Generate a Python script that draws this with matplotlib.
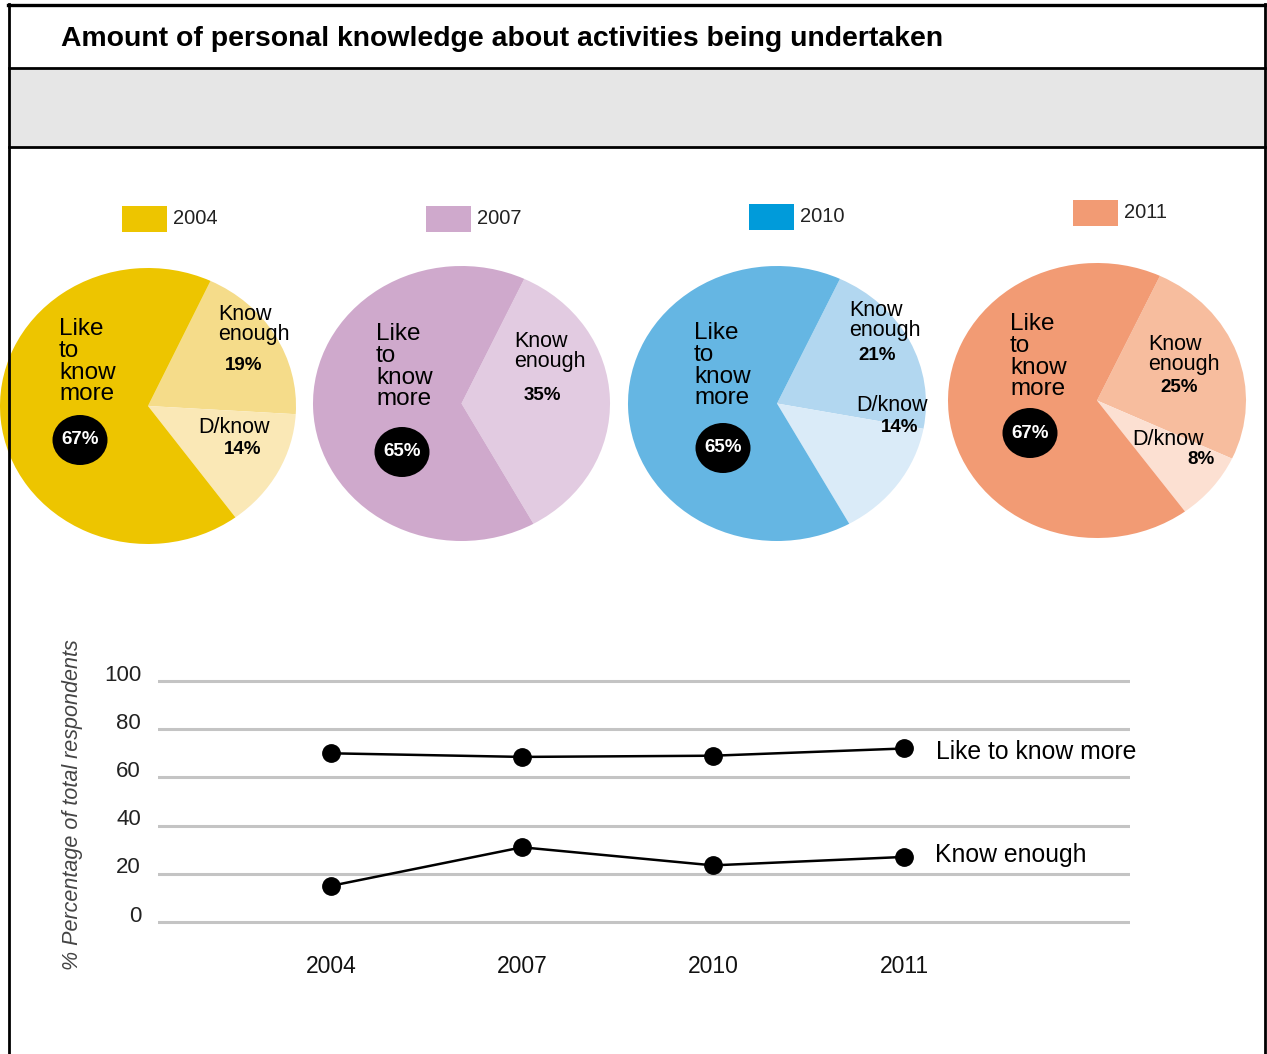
import matplotlib.pyplot as plt
import matplotlib.transforms as mtransforms
from matplotlib.patches import Rectangle, Ellipse

plt.rcParams['font.family'] = ['Liberation Sans', 'DejaVu Sans']

W, H = 1267, 1054

# pie data (percent)
years = ['2004', '2007', '2010', '2011']
like_more = [67, 65, 65, 67]
know_enough = [19, 35, 21, 25]
dont_know = [14, 0, 14, 8]

# trend data (% of total respondents)
trend_years = ['2004', '2007', '2010', '2011']
trend_like = [70, 68.5, 69, 72]
trend_enough = [15, 31, 23.5, 27]
yticks = [0, 20, 40, 60, 80, 100]

pie_colors = [
    ('#EDC500', '#F5DC8A', '#FAE8B6'),
    ('#CFA9CC', '#E2CBE1', '#E2CBE1'),
    ('#65B6E3', '#B2D7F0', '#DAEBF8'),
    ('#F29B74', '#F7BD9E', '#FCE0D2'),
]
swatch_colors = ['#EDC500', '#CFA9CC', '#009BDA', '#F29B74']

fig = plt.figure(figsize=(W / 100, H / 100), dpi=100)


def px_axes(x0, y0, w, h):
    # axes placed with pixel box (top-left origin)
    return fig.add_axes([x0 / W, 1 - (y0 + h) / H, w / W, h / H])


# ---- pies ----
pie_boxes = [(0, 268, 296, 276), (313, 266, 297, 275), (628, 266, 298, 275), (948, 263, 298, 275)]
for i, box in enumerate(pie_boxes):
    ax = px_axes(*box)
    vals = [know_enough[i], dont_know[i], like_more[i]]
    cols = [pie_colors[i][1], pie_colors[i][2], pie_colors[i][0]]
    ax.pie(vals, colors=cols, startangle=65, counterclock=False,
           wedgeprops=dict(linewidth=0))
    ax.set_aspect('auto')
    ax.set_xlim(-1, 1)
    ax.set_ylim(-1, 1)
    ax.axis('off')

# ---- trend line chart ----
lx0, ly0, lw, lh = 158, 660, 972, 280
lax = px_axes(lx0, ly0, lw, lh)
xs = list(range(len(trend_years)))
lax.plot(xs, trend_like, color='black', lw=1.8, marker='o', ms=12.5, zorder=3)
lax.plot(xs, trend_enough, color='black', lw=1.8, marker='o', ms=12.5, zorder=3)
lax.set_xlim((158 - 331) / 191, (1130 - 331) / 191)
lax.set_ylim(-(940 - 922) / 2.41, (922 - 660) / 2.41)
for v in yticks:
    lax.axhline(v, color='#C4C4C4', lw=2.2, zorder=1)
for s in lax.spines.values():
    s.set_visible(False)
lax.set_yticks([])
lax.set_xticks(xs, trend_years)
lax.tick_params(axis='x', length=0, pad=11, labelsize=16.5, labelcolor='#111')
up = mtransforms.ScaledTranslation(0, 6 / 100, fig.dpi_scale_trans)
for v in yticks:
    lax.text(-17 / lw, v, str(v), transform=lax.get_yaxis_transform() + up,
             ha='right', va='center', fontsize=16, color='#222')
lax.annotate('Like to know more', xy=(xs[-1], trend_like[-1]), xytext=(32, -4),
             textcoords='offset pixels', ha='left', va='center', fontsize=17.8)
lax.annotate('Know enough', xy=(xs[-1], trend_enough[-1]), xytext=(31, 2),
             textcoords='offset pixels', ha='left', va='center', fontsize=17.8)

# ---- overlay: frame, title, legend, labels ----
ov = fig.add_axes([0, 0, 1, 1])
ov.set_xlim(0, W)
ov.set_ylim(H, 0)
ov.axis('off')
ov.patch.set_alpha(0)

ov.add_patch(Rectangle((9, 68), 1256, 79, color='#E6E6E6', lw=0))
ov.plot([8, 1266], [5, 5], color='black', lw=2.4)
ov.plot([9, 9], [4, H], color='black', lw=2)
ov.plot([1265, 1265], [4, H], color='black', lw=2)
ov.plot([9, 1265], [68, 68], color='black', lw=2)
ov.plot([9, 1265], [147, 147], color='black', lw=2)

ov.text(61, 39, 'Amount of personal knowledge about activities being undertaken',
        fontsize=20.4, fontweight='bold', ha='left', va='center')

swatches = [(122, 206), (426, 206), (749, 204), (1073, 200)]
for (sx, sy), c, yr in zip(swatches, swatch_colors, years):
    ov.add_patch(Rectangle((sx, sy), 45, 26, color=c, lw=0))
    ov.text(sx + 51, sy + 13, yr, fontsize=14.5, ha='left', va='center', color='#222')

lab_kw = dict(fontsize=17.5, ha='left', va='top', linespacing=0.99)
like_pos = [(59, 318), (376, 323), (694, 322), (1010, 313)]
for (x, y) in like_pos:
    ov.text(x, y, 'Like\nto\nknow\nmore', **lab_kw)

circles = [(80, 440), (402, 452), (723, 448), (1030, 433)]
for (cx, cy), v in zip(circles, like_more):
    ov.add_patch(Ellipse((cx, cy), 55, 50, color='black', lw=0))
    ov.text(cx, cy, f'{v}%', color='white', fontsize=13.5, fontweight='bold',
            ha='center', va='center')

small_kw = dict(fontsize=15.5, ha='left', va='top', linespacing=0.95)
enough_pos = [(218, 304), (514, 331), (849, 300), (1148, 334)]
enough_pct = [(244, 365), (542, 396), (877, 355), (1179, 387)]
for i in range(4):
    ov.text(*enough_pos[i], 'Know\nenough', **small_kw)
    ov.text(*enough_pct[i], f'{know_enough[i]}%', fontsize=13.5, fontweight='bold',
            ha='center', va='center')

dk_pos = {0: (198, 417), 2: (856, 395), 3: (1132, 429)}
dk_pct = {0: (243, 449), 2: (900, 427), 3: (1201, 459)}
for i, p in dk_pos.items():
    ov.text(*p, 'D/know', **small_kw)
    ov.text(*dk_pct[i], f'{dont_know[i]}%', fontsize=13.5, fontweight='bold',
            ha='center', va='center')

ov.text(73, 805, '% Percentage of total respondents', rotation=90, style='italic',
        fontsize=15.5, color='#444', ha='center', va='center')

fig.savefig('out.png', dpi=100)
